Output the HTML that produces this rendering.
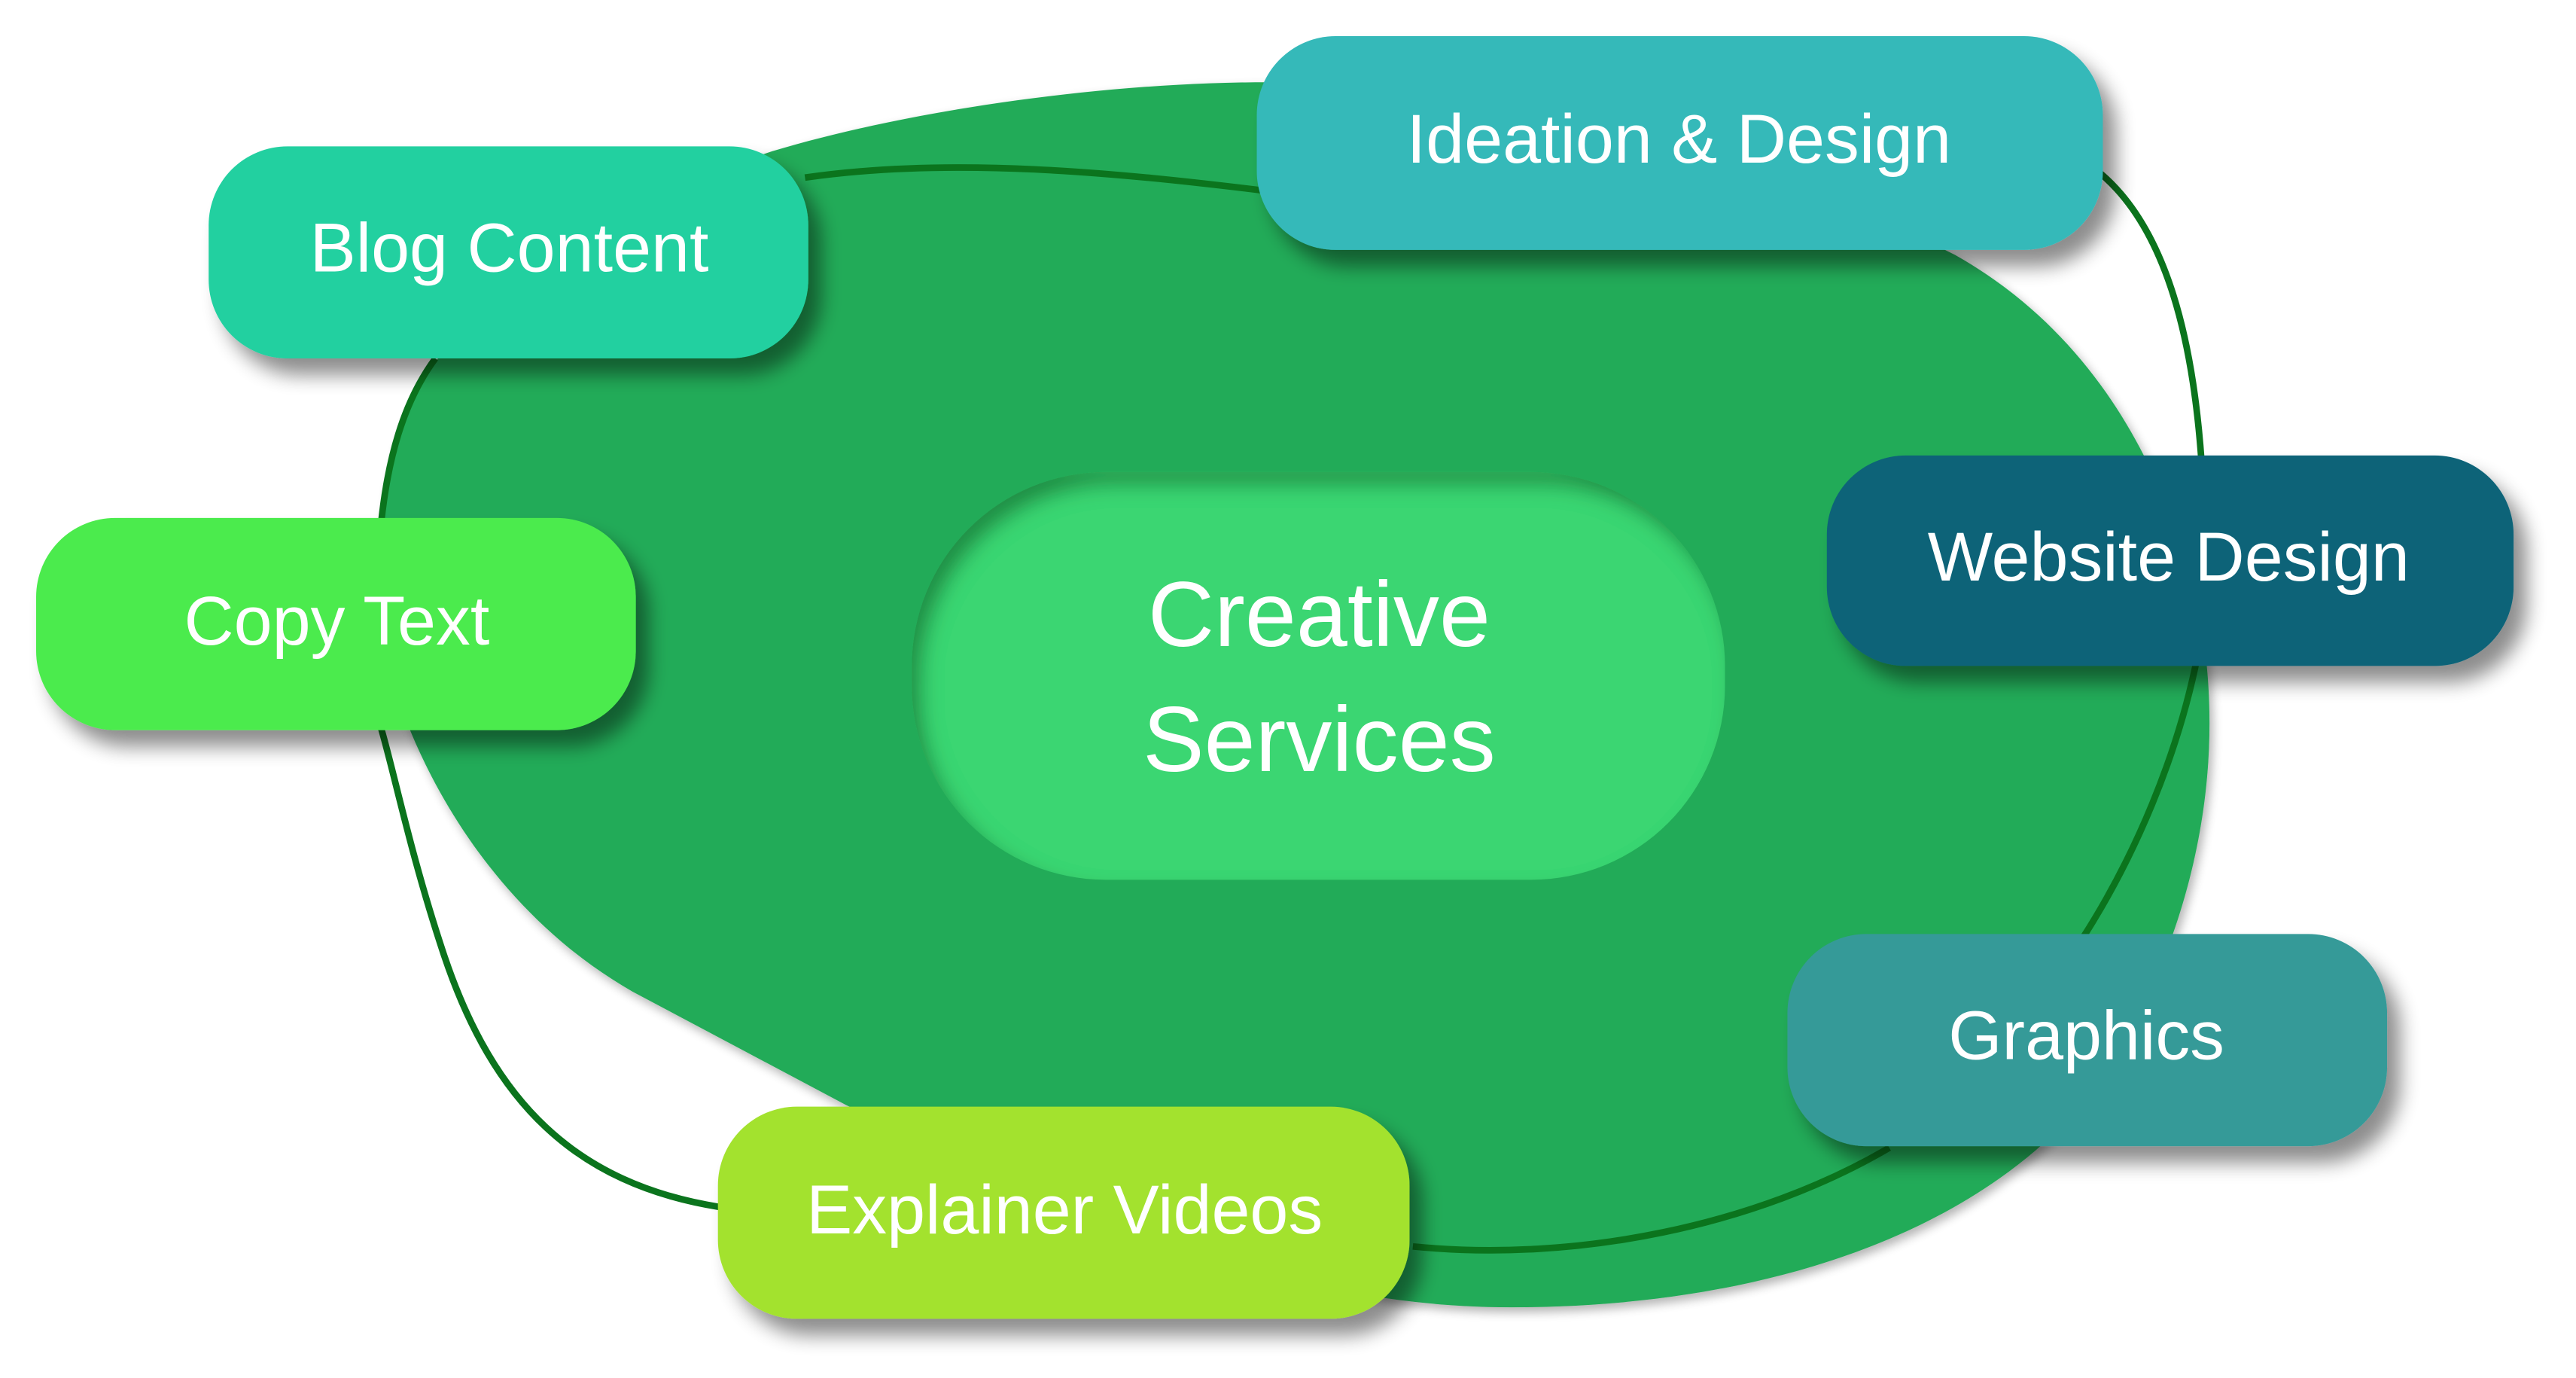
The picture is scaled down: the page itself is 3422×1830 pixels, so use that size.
<!DOCTYPE html>
<html><head><meta charset="utf-8"><style>
html,body{margin:0;padding:0;background:#fff;}
svg{display:block;}
text{font-family:"Liberation Sans",sans-serif;fill:#fff;text-anchor:middle;}
</style></head><body>
<svg width="3422" height="1830" viewBox="0 0 1568 838" preserveAspectRatio="none">
<defs>
<filter id="sh" x="-20%" y="-20%" width="150%" height="160%">
<feGaussianBlur in="SourceAlpha" stdDeviation="6"/>
<feOffset dx="8" dy="10" result="b"/>
<feComponentTransfer><feFuncA type="linear" slope="0.45"/></feComponentTransfer>
<feMerge><feMergeNode/><feMergeNode in="SourceGraphic"/></feMerge>
</filter>
<filter id="bs" x="-10%" y="-10%" width="120%" height="120%">
<feGaussianBlur in="SourceAlpha" stdDeviation="3"/>
<feOffset dx="2" dy="3"/>
<feComponentTransfer><feFuncA type="linear" slope="0.3"/></feComponentTransfer>
<feMerge><feMergeNode/><feMergeNode in="SourceGraphic"/></feMerge>
</filter>
<filter id="ins" x="-5%" y="-5%" width="110%" height="110%">
<feFlood flood-color="#0c6b2c" flood-opacity="0.75"/>
<feComposite operator="out" in2="SourceAlpha"/>
<feOffset dx="6" dy="8"/>
<feGaussianBlur stdDeviation="6"/>
<feComposite operator="in" in2="SourceAlpha" result="s"/>
<feMerge><feMergeNode in="SourceGraphic"/><feMergeNode in="s"/></feMerge>
</filter>
</defs>
<path filter="url(#bs)" fill="#24ab59" d="M470,92 C560,65 680,50 770,50 C950,50 1100,110 1190,155 C1270,200 1320,280 1340,380 C1355,470 1335,560 1290,640 C1230,740 1090,795 920,795 C800,795 690,755 515,672 L385,603 C320,566 275,505 250,445 C230,390 226,330 238,280 C255,200 340,135 470,92 Z"/>
<g fill="none" stroke="#0b741d" stroke-width="4">
<path d="M490,108 C580,95 680,105 770,116"/>
<path d="M1278,105 C1320,140 1335,210 1340,280"/>
<path d="M1337,402 C1325,460 1300,520 1268,570"/>
<path d="M1150,698 C1070,745 960,768 860,758"/>
<path d="M438,734 C350,720 300,670 270,580 C250,520 240,470 232,443"/>
<path d="M232,318 C236,280 245,245 265,218"/>
</g>
<rect x="555" y="287" width="495" height="248" rx="118" fill="#3bd672" filter="url(#ins)"/>
<text x="803" y="393" font-size="56">Creative</text>
<text x="803" y="469" font-size="56">Services</text>
<g filter="url(#sh)">
<rect x="127" y="89" width="365" height="129" rx="48" fill="#21d0a0"/>
<rect x="765" y="22" width="515" height="130" rx="48" fill="#35b9b9"/>
<rect x="1112" y="277" width="418" height="128" rx="48" fill="#0a6378"/>
<rect x="22" y="315" width="365" height="129" rx="48" fill="#4ceb4d"/>
<rect x="1088" y="568" width="365" height="129" rx="48" fill="#349a98"/>
<rect x="437" y="673" width="421" height="129" rx="48" fill="#a3e22e"/>
</g>
<g font-size="42">
<text x="310" y="165">Blog Content</text>
<text x="1022" y="99">Ideation &amp; Design</text>
<text x="1320" y="353">Website Design</text>
<text x="205" y="392">Copy Text</text>
<text x="1270" y="644">Graphics</text>
<text x="648" y="750">Explainer Videos</text>
</g>
</svg>
</body></html>
